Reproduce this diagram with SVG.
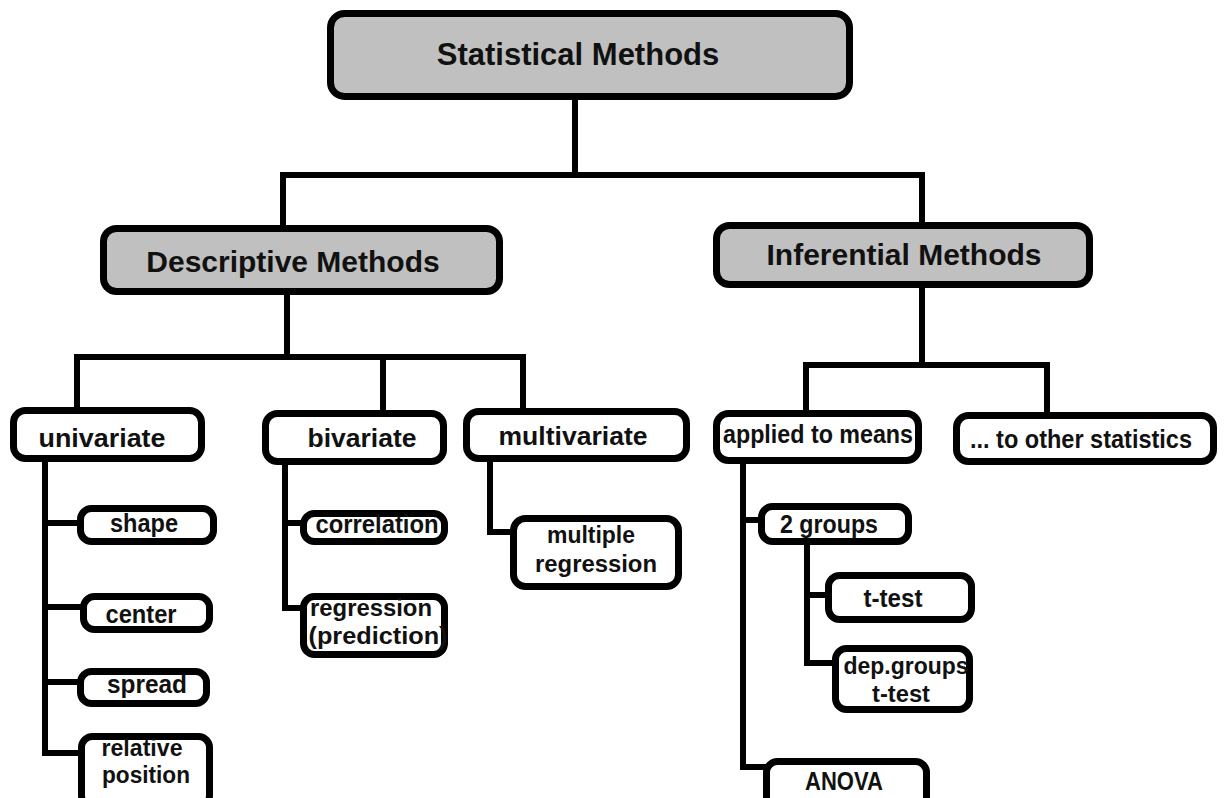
<svg xmlns="http://www.w3.org/2000/svg" width="1226" height="798" viewBox="0 0 1226 798">
<style>
.box{fill:#ffffff;stroke:#000;stroke-width:7}
.hdr{fill:#c0c0c0;stroke:#000;stroke-width:7}
.t{font-family:"Liberation Sans",Arial,sans-serif;font-weight:bold;fill:#111;text-anchor:middle}
.big{font-size:30px}
.sm{font-size:25px}
.s2{font-size:23px}
.c{fill:none;stroke:#000;stroke-width:6;stroke-linejoin:miter;stroke-linecap:square}
</style>
<rect width="1226" height="798" fill="#ffffff"/>
<g id="connectors">
<path class="c" d="M575 100V175M283 175H922M283 175V225M922 175V222"/>
<path class="c" d="M287 295V357M77 357H523M77 357V407M383 357V410M523 357V408"/>
<path class="c" d="M922 288V365M806 365H1047M806 365V410M1047 365V412"/>
<path class="c" d="M45 462V753H78M45 523H77M45 607H80M45 682H77"/>
<path class="c" d="M285 465V608H300M285 523H302"/>
<path class="c" d="M490 462V532H510"/>
<path class="c" d="M743 465V767H763M743 520H758"/>
<path class="c" d="M807 545V663H832M807 595H825"/>
</g>
<g id="n-statistical"><rect class="hdr" x="330.5" y="13.5" width="519" height="83" rx="14"/><text class="t" x="578" y="65" font-size="31px">Statistical Methods</text></g>
<g id="n-descriptive"><rect class="hdr" x="103.5" y="228.5" width="396" height="63" rx="13"/><text class="t big" x="293" y="272">Descriptive Methods</text></g>
<g id="n-inferential"><rect class="hdr" x="716.5" y="225.5" width="373" height="59" rx="13"/><text class="t big" x="904" y="265">Inferential Methods</text></g>
<g id="n-univariate"><rect class="box" x="13.5" y="410.5" width="188" height="48" rx="12"/><text class="t sm" x="102" y="447" textLength="127" lengthAdjust="spacingAndGlyphs">univariate</text></g>
<g id="n-bivariate"><rect class="box" x="265.5" y="413.5" width="178" height="48" rx="12"/><text class="t sm" x="362" y="447" textLength="109" lengthAdjust="spacingAndGlyphs">bivariate</text></g>
<g id="n-multivariate"><rect class="box" x="466.5" y="411.5" width="220" height="47" rx="12"/><text class="t sm" x="573" y="445" textLength="149" lengthAdjust="spacingAndGlyphs">multivariate</text></g>
<g id="n-applied"><rect class="box" x="716.5" y="413.5" width="202" height="47" rx="12"/><text class="t sm" x="818" y="443" textLength="190" lengthAdjust="spacingAndGlyphs">applied to means</text></g>
<g id="n-other"><rect class="box" x="956.5" y="415.5" width="257" height="46" rx="12"/><text class="t sm" x="1081" y="448" textLength="222" lengthAdjust="spacingAndGlyphs">... to other statistics</text></g>
<g id="n-shape"><rect class="box" x="80.5" y="508.5" width="133" height="33" rx="11"/><text class="t sm" x="144" y="532" textLength="68" lengthAdjust="spacingAndGlyphs">shape</text></g>
<g id="n-center"><rect class="box" x="83.5" y="596.5" width="126" height="33" rx="11"/><text class="t sm" x="141" y="623" textLength="71" lengthAdjust="spacingAndGlyphs">center</text></g>
<g id="n-spread"><rect class="box" x="80.5" y="671.5" width="126" height="32" rx="11"/><text class="t sm" x="147" y="693" textLength="80" lengthAdjust="spacingAndGlyphs">spread</text></g>
<g id="n-relative"><rect class="box" x="81.5" y="736.5" width="128" height="70" rx="11"/><text class="t s2" x="142" y="756" textLength="81" lengthAdjust="spacingAndGlyphs">relative</text><text class="t s2" x="146" y="783" textLength="88" lengthAdjust="spacingAndGlyphs">position</text></g>
<g id="n-correlation"><rect class="box" x="303.5" y="513.5" width="141" height="28" rx="11"/><text class="t sm" x="377" y="533" textLength="123" lengthAdjust="spacingAndGlyphs">correlation</text></g>
<g id="n-regression"><rect class="box" x="303.5" y="596.5" width="141" height="58" rx="11"/><text class="t s2" x="371" y="616" textLength="122" lengthAdjust="spacingAndGlyphs">regression</text><text class="t s2" x="378" y="644" textLength="139" lengthAdjust="spacingAndGlyphs">(prediction)</text></g>
<g id="n-multiple"><rect class="box" x="513.5" y="518.5" width="165" height="68" rx="12"/><text class="t s2" x="591" y="543" textLength="88" lengthAdjust="spacingAndGlyphs">multiple</text><text class="t s2" x="596" y="572" textLength="122" lengthAdjust="spacingAndGlyphs">regression</text></g>
<g id="n-2groups"><rect class="box" x="761.5" y="506.5" width="147" height="35" rx="11"/><text class="t sm" x="829" y="533" textLength="98" lengthAdjust="spacingAndGlyphs">2 groups</text></g>
<g id="n-ttest"><rect class="box" x="828.5" y="575.5" width="143" height="44" rx="11"/><text class="t sm" x="893" y="607" textLength="59" lengthAdjust="spacingAndGlyphs">t-test</text></g>
<g id="n-dep"><rect class="box" x="835.5" y="648.5" width="134" height="61" rx="11"/><text class="t s2" x="906" y="674" textLength="125" lengthAdjust="spacingAndGlyphs">dep.groups</text><text class="t s2" x="901" y="702" textLength="58" lengthAdjust="spacingAndGlyphs">t-test</text></g>
<g id="n-anova"><rect class="box" x="766.5" y="761.5" width="160" height="50" rx="11"/><text class="t sm" x="844" y="790" textLength="78" lengthAdjust="spacingAndGlyphs">ANOVA</text></g>
</svg>
